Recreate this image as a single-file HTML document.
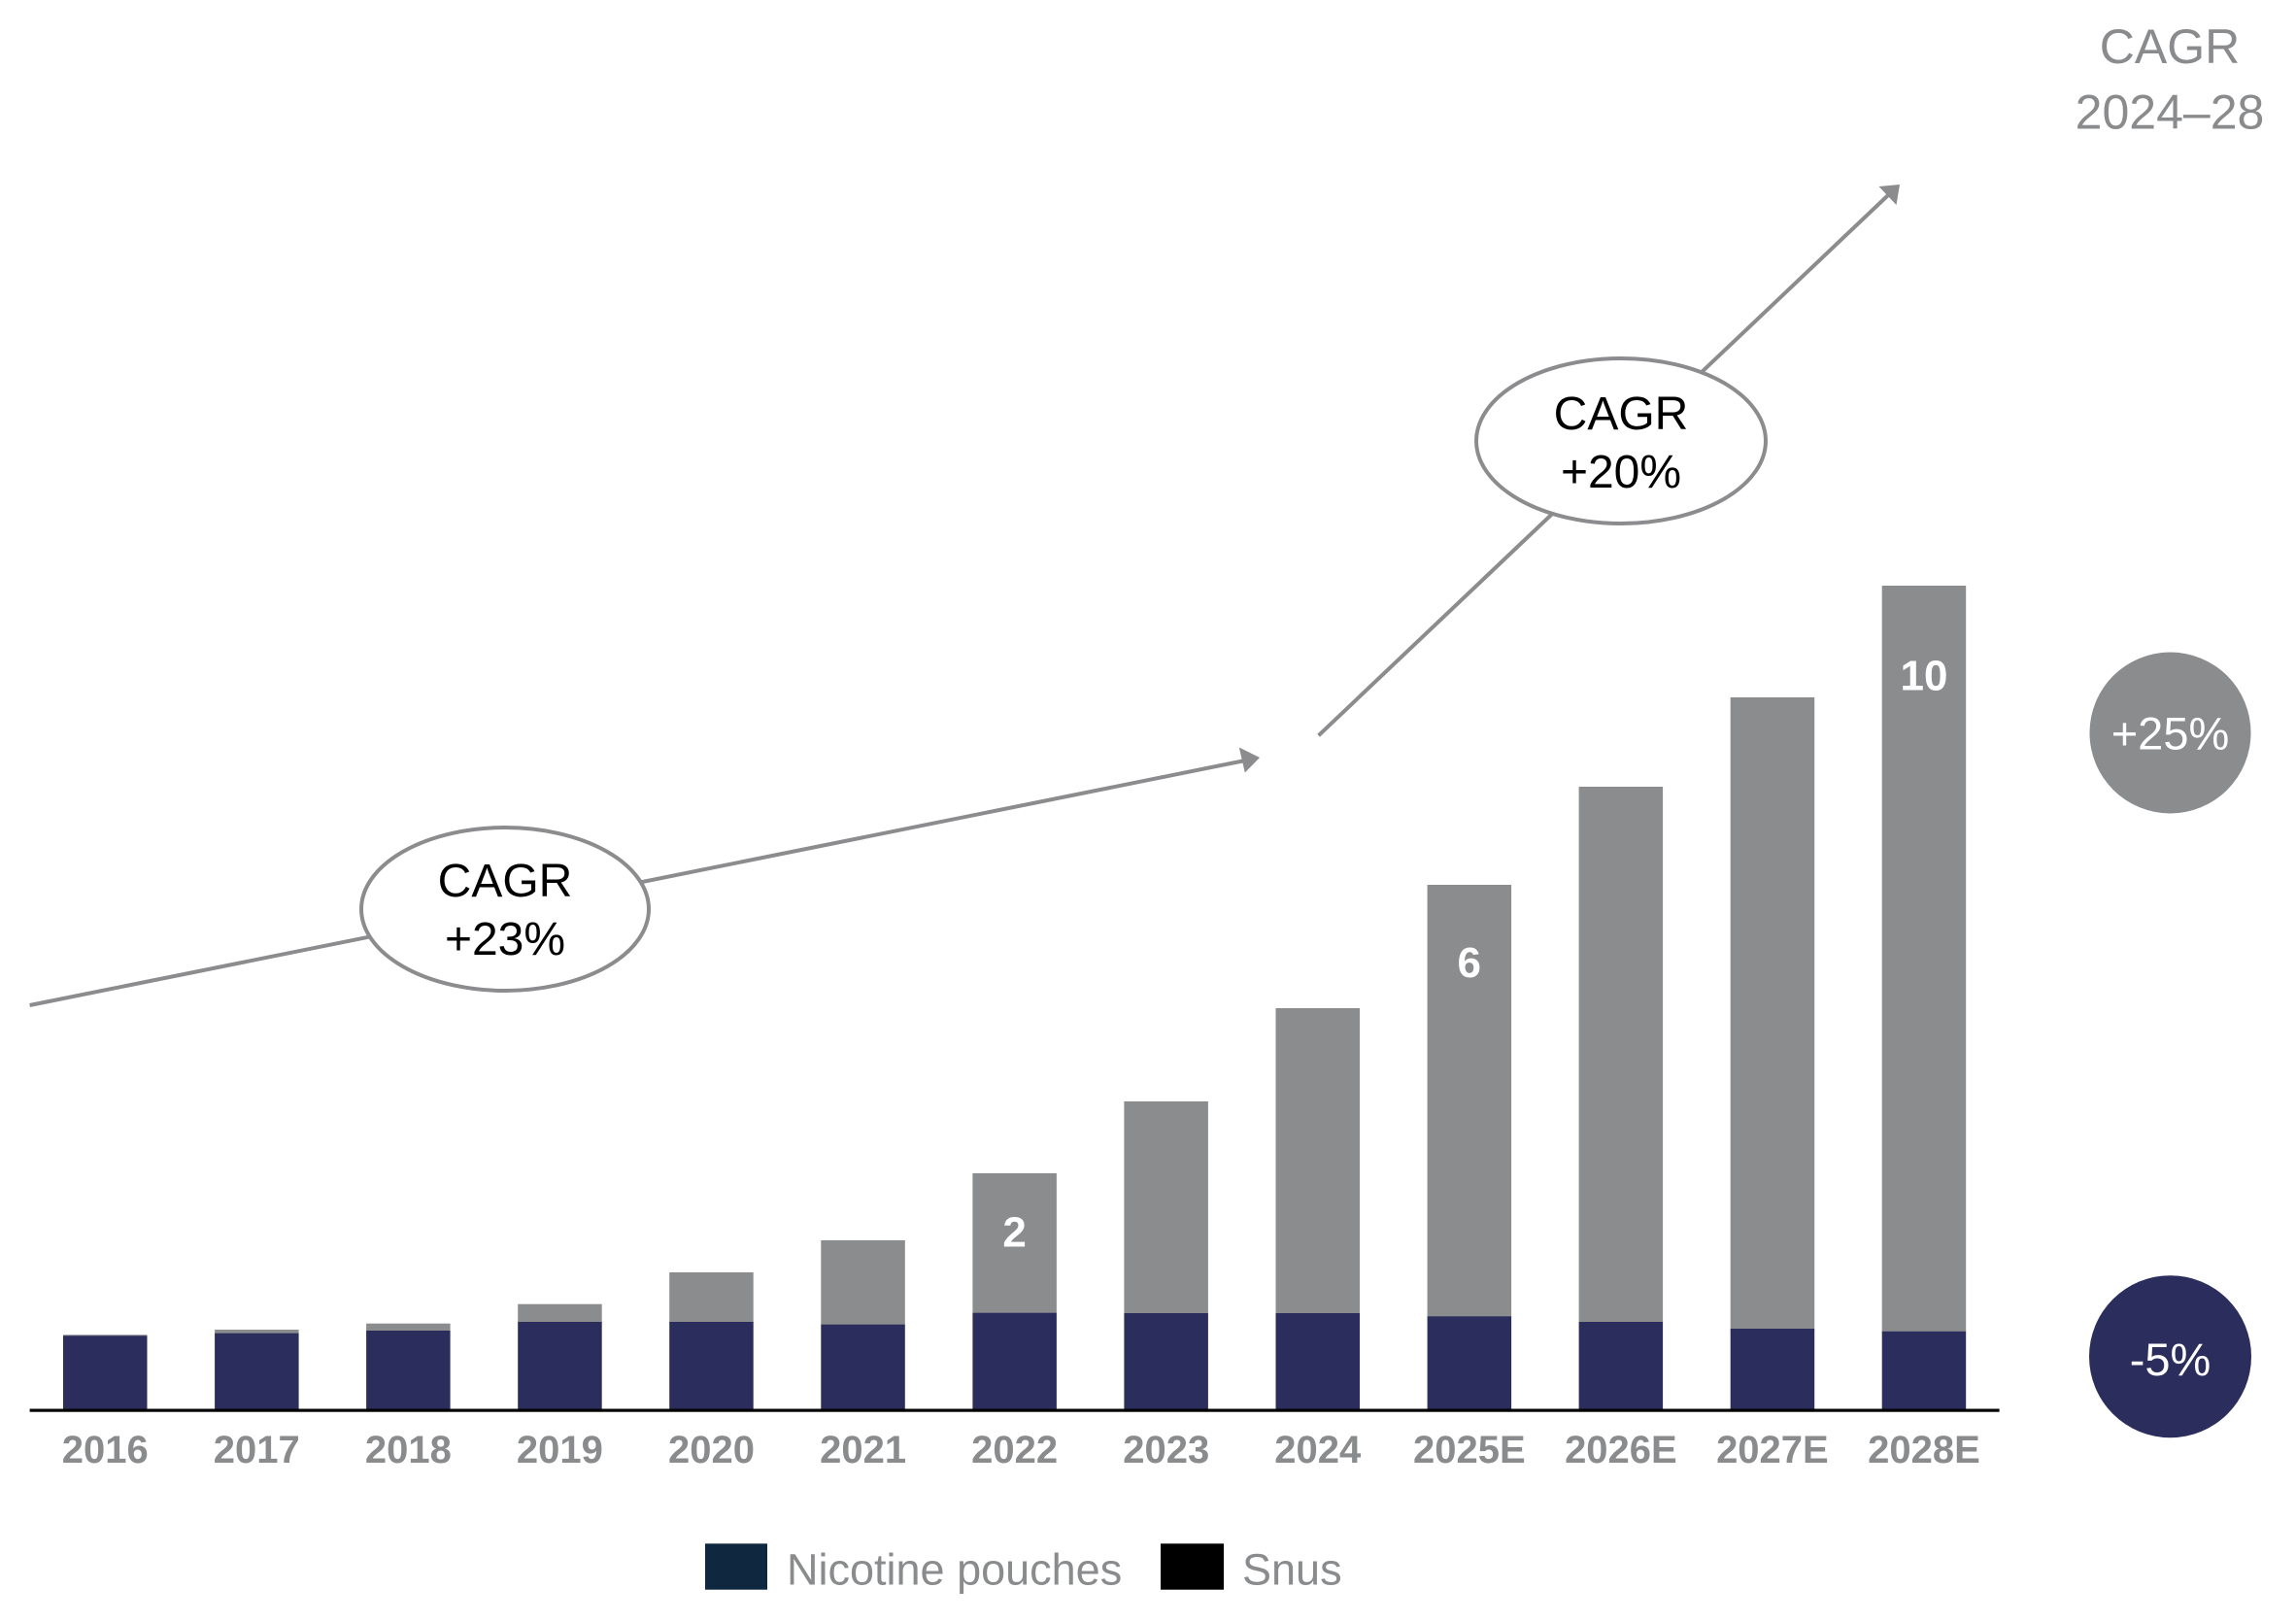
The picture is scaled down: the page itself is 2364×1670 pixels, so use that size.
<!DOCTYPE html>
<html>
<head>
<meta charset="utf-8">
<style>
  html, body { margin: 0; padding: 0; background: #ffffff; }
  svg { display: block; }
  text { font-family: "Liberation Sans", Arial, sans-serif; }
</style>
</head>
<body>
<svg width="2364" height="1670" viewBox="0 0 2364 1670" xmlns="http://www.w3.org/2000/svg">
  <rect x="0" y="0" width="2364" height="1670" fill="#ffffff"/>

  <!-- Bars: gray (nicotine pouches) stacked on navy (snus) -->
  <g>
    <!-- 2016 -->
    <rect x="65" y="1374.3" width="86.5" height="1.2" fill="#8b8c8e"/>
    <rect x="65" y="1375.3" width="86.5" height="75.7" fill="#2b2e5d"/>
    <!-- 2017 -->
    <rect x="221.1" y="1369" width="86.5" height="4" fill="#8b8c8e"/>
    <rect x="221.1" y="1372.7" width="86.5" height="78.3" fill="#2b2e5d"/>
    <!-- 2018 -->
    <rect x="377.1" y="1362.7" width="86.5" height="8" fill="#8b8c8e"/>
    <rect x="377.1" y="1370" width="86.5" height="81" fill="#2b2e5d"/>
    <!-- 2019 -->
    <rect x="533.2" y="1342.7" width="86.5" height="19" fill="#8b8c8e"/>
    <rect x="533.2" y="1361" width="86.5" height="90" fill="#2b2e5d"/>
    <!-- 2020 -->
    <rect x="689.2" y="1310" width="86.5" height="52" fill="#8b8c8e"/>
    <rect x="689.2" y="1361" width="86.5" height="90" fill="#2b2e5d"/>
    <!-- 2021 -->
    <rect x="845.3" y="1277" width="86.5" height="87.5" fill="#8b8c8e"/>
    <rect x="845.3" y="1363.7" width="86.5" height="87.3" fill="#2b2e5d"/>
    <!-- 2022 -->
    <rect x="1001.4" y="1208" width="86.5" height="144.5" fill="#8b8c8e"/>
    <rect x="1001.4" y="1351.7" width="86.5" height="99.3" fill="#2b2e5d"/>
    <!-- 2023 -->
    <rect x="1157.4" y="1134" width="86.5" height="219" fill="#8b8c8e"/>
    <rect x="1157.4" y="1352" width="86.5" height="99" fill="#2b2e5d"/>
    <!-- 2024 -->
    <rect x="1313.5" y="1038" width="86.5" height="315" fill="#8b8c8e"/>
    <rect x="1313.5" y="1352" width="86.5" height="99" fill="#2b2e5d"/>
    <!-- 2025E -->
    <rect x="1469.6" y="911" width="86.5" height="445" fill="#8b8c8e"/>
    <rect x="1469.6" y="1355.3" width="86.5" height="95.7" fill="#2b2e5d"/>
    <!-- 2026E -->
    <rect x="1625.6" y="810" width="86.5" height="552" fill="#8b8c8e"/>
    <rect x="1625.6" y="1361" width="86.5" height="90" fill="#2b2e5d"/>
    <!-- 2027E -->
    <rect x="1781.7" y="718" width="86.5" height="651" fill="#8b8c8e"/>
    <rect x="1781.7" y="1368" width="86.5" height="83" fill="#2b2e5d"/>
    <!-- 2028E -->
    <rect x="1937.7" y="603" width="86.5" height="768.5" fill="#8b8c8e"/>
    <rect x="1937.7" y="1370.8" width="86.5" height="80.2" fill="#2b2e5d"/>
  </g>

  <!-- Axis line -->
  <rect x="30.6" y="1450.5" width="2028" height="3.2" fill="#000000"/>

  <!-- Bar value labels -->
  <g font-weight="bold" font-size="44" fill="#ffffff" text-anchor="middle">
    <text x="1044.6" y="1283.5">2</text>
    <text x="1512.8" y="1006">6</text>
    <text x="1981" y="710.6">10</text>
  </g>

  <!-- Year labels -->
  <g font-weight="bold" font-size="40" fill="#8a8b8d" text-anchor="middle">
    <text x="108.3" y="1506">2016</text>
    <text x="264.3" y="1506">2017</text>
    <text x="420.4" y="1506">2018</text>
    <text x="576.4" y="1506">2019</text>
    <text x="732.5" y="1506">2020</text>
    <text x="888.6" y="1506">2021</text>
    <text x="1044.6" y="1506">2022</text>
    <text x="1200.7" y="1506">2023</text>
    <text x="1356.7" y="1506">2024</text>
    <text x="1512.8" y="1506">2025E</text>
    <text x="1668.9" y="1506">2026E</text>
    <text x="1824.9" y="1506">2027E</text>
    <text x="1981" y="1506">2028E</text>
  </g>

  <!-- Arrow 1 (2016 -> 2024) -->
  <line x1="30.6" y1="1035" x2="1282" y2="783" stroke="#8c8c8e" stroke-width="4"/>
  <polygon points="1297,780 1275.8,769.5 1281.8,795.5" fill="#8c8c8e"/>

  <!-- Arrow 2 (2024 -> 2028) -->
  <line x1="1357.6" y1="757.3" x2="1944" y2="201" stroke="#8c8c8e" stroke-width="4"/>
  <polygon points="1956,190 1934.5,192 1952.5,211" fill="#8c8c8e"/>

  <!-- Ellipse 1 -->
  <ellipse cx="520" cy="936" rx="148" ry="84" fill="#ffffff" stroke="#8c8c8e" stroke-width="4"/>
  <g font-size="48" fill="#000000" text-anchor="middle">
    <text x="520" y="923">CAGR</text>
    <text x="520" y="983">+23%</text>
  </g>

  <!-- Ellipse 2 -->
  <ellipse cx="1669" cy="454" rx="149" ry="85" fill="#ffffff" stroke="#8c8c8e" stroke-width="4"/>
  <g font-size="48" fill="#000000" text-anchor="middle">
    <text x="1669" y="442">CAGR</text>
    <text x="1669" y="502">+20%</text>
  </g>

  <!-- CAGR 2024-28 header -->
  <g font-size="50" fill="#8a8b8d" text-anchor="middle">
    <text x="2234" y="65">CAGR</text>
    <text x="2234" y="132.7">2024–28</text>
  </g>

  <!-- Circles -->
  <circle cx="2234.5" cy="754.5" r="83" fill="#8b8c8e"/>
  <text x="2234.5" y="771.7" font-size="47" fill="#ffffff" text-anchor="middle">+25%</text>

  <circle cx="2234.5" cy="1396.7" r="83.5" fill="#2b2e5d"/>
  <text x="2234.5" y="1416" font-size="47" fill="#ffffff" text-anchor="middle">-5%</text>

  <!-- Legend -->
  <rect x="726" y="1589.3" width="64" height="47.4" fill="#0f2840"/>
  <text x="810" y="1631.5" font-size="45" fill="#8a8b8d">Nicotine pouches</text>
  <rect x="1195" y="1589.3" width="65" height="47.4" fill="#000000"/>
  <text x="1279" y="1631.5" font-size="45" fill="#8a8b8d">Snus</text>
</svg>
</body>
</html>
